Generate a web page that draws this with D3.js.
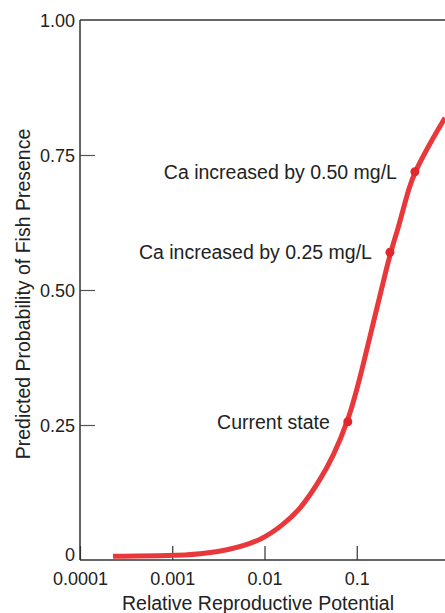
<!DOCTYPE html>
<html>
<head>
<meta charset="utf-8">
<script src="https://cdn.jsdelivr.net/npm/d3@7"></script>
<style>
  body { margin: 0; background: #fff; }
  text { font-family: "Liberation Sans", Arial, sans-serif; fill: #222; }
</style>
</head>
<body>
<div id="chart"></div>
<script>
// curve: relative reproductive potential vs. probability
var potential = [0.000228, 0.001, 0.00199, 0.0042, 0.0094, 0.0158, 0.0243, 0.040, 0.0553, 0.080, 0.108, 0.229, 0.273, 0.317, 0.368, 0.427, 0.622, 0.906];
var probability = [0.007, 0.008, 0.011, 0.0185, 0.037, 0.065, 0.093, 0.148, 0.191, 0.256, 0.333, 0.570, 0.606, 0.648, 0.689, 0.719, 0.772, 0.819];

// marked states on the curve
var mark_labels = ["Current state", "Ca increased by 0.25 mg/L", "Ca increased by 0.50 mg/L"];
var mark_potential = [0.080, 0.229, 0.427];
var mark_probability = [0.256, 0.570, 0.719];

var x_ticks = [0.0001, 0.001, 0.01, 0.1];
var x_tick_labels = ["0.0001", "0.001", "0.01", "0.1"];
var y_ticks = [0, 0.25, 0.5, 0.75, 1];
var y_tick_labels = ["0", "0.25", "0.50", "0.75", "1.00"];

var width = 445, height = 613;

var svg = d3.select("#chart").append("svg")
    .attr("width", width)
    .attr("height", height);

var x = d3.scaleLog().domain([0.0001, 1]).range([80, 449]);
var y = d3.scaleLinear().domain([0, 1]).range([560, 20]);

// x axis, ticks pointing inward
var x_axis = svg.append("g")
    .attr("transform", "translate(0," + y(0) + ")")
    .call(d3.axisBottom(x).tickValues(x_ticks).tickSize(-14).tickPadding(20)
        .tickFormat(function(d, i) { return x_tick_labels[i]; }));
x_axis.select(".domain").remove();
x_axis.selectAll(".tick line").attr("stroke", "#333").attr("stroke-width", 1.2);
x_axis.selectAll(".tick text").attr("font-size", 18).attr("dy", "0.3em")
    .style("font-family", "'Liberation Sans', Arial, sans-serif").attr("fill", "#222");

// y axis, ticks pointing inward
var y_axis = svg.append("g")
    .attr("transform", "translate(" + x(0.0001) + ",0)")
    .call(d3.axisLeft(y).tickValues(y_ticks).tickSize(-15).tickPadding(5)
        .tickFormat(function(d, i) { return y_tick_labels[i]; }));
y_axis.select(".domain").remove();
y_axis.selectAll(".tick line").attr("stroke", "#555").attr("stroke-width", 1.2)
    .filter(function(d) { return d === 0 || d === 1; }).remove();
y_axis.selectAll(".tick text").attr("font-size", 18)
    .style("font-family", "'Liberation Sans', Arial, sans-serif").attr("fill", "#222")
    .attr("dy", function(d) { return d === 0 ? "0.05em" : "0.35em"; });

// frame lines: left, bottom, top
svg.append("line").attr("x1", x(0.0001)).attr("x2", x(0.0001))
    .attr("y1", y(1)).attr("y2", y(0)).attr("stroke", "#333").attr("stroke-width", 1.5);
svg.append("line").attr("x1", x(0.0001)).attr("x2", width)
    .attr("y1", y(0)).attr("y2", y(0)).attr("stroke", "#333").attr("stroke-width", 1.5);
svg.append("line").attr("x1", x(0.0001)).attr("x2", width)
    .attr("y1", y(1)).attr("y2", y(1)).attr("stroke", "#333").attr("stroke-width", 1.3);

// the curve (basis spline smooths out small reading errors)
var pts = potential.map(function(d, i) { return [d, probability[i]]; });
var line = d3.line()
    .x(function(d) { return x(d[0]); })
    .y(function(d) { return y(d[1]); })
    .curve(d3.curveBasis);

svg.append("path")
    .datum(pts)
    .attr("d", line)
    .attr("fill", "none")
    .attr("stroke", "#e8383b")
    .attr("stroke-width", 5);

// marked points and their labels
var marks = mark_labels.map(function(d, i) {
    return { label: d, px: mark_potential[i], pr: mark_probability[i] };
});

svg.selectAll(".mark").data(marks).enter().append("circle")
    .attr("class", "mark")
    .attr("cx", function(d) { return x(d.px); })
    .attr("cy", function(d) { return y(d.pr); })
    .attr("r", 4.5)
    .attr("fill", "#e2282c");

svg.selectAll(".mark-label").data(marks).enter().append("text")
    .attr("class", "mark-label")
    .attr("x", function(d) { return x(d.px) - 18; })
    .attr("y", function(d) { return y(d.pr); })
    .attr("dy", "0.35em")
    .attr("text-anchor", "end")
    .attr("font-size", 19.5)
    .text(function(d) { return d.label; });

// axis titles
svg.append("text")
    .attr("x", 258)
    .attr("y", 610)
    .attr("text-anchor", "middle")
    .attr("font-size", 19.5)
    .text("Relative Reproductive Potential");

svg.append("text")
    .attr("transform", "translate(30,294) rotate(-90)")
    .attr("text-anchor", "middle")
    .attr("font-size", 19.5)
    .text("Predicted Probability of Fish Presence");
</script>
</body>
</html>
